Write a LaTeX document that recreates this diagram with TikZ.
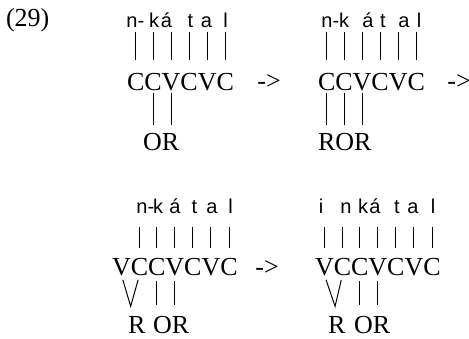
\documentclass[tikz,border=0pt]{standalone}
\usepackage{fontspec}
\setmainfont{Liberation Serif}
\newfontfamily\segfont{Liberation Sans}
\usetikzlibrary{positioning}

\begin{document}
\begin{tikzpicture}[x=0.5pt, y=-0.5pt,
  every node/.style={inner sep=0pt, outer sep=0pt},
  seg/.style={font=\segfont\fontsize{10pt}{12pt}\selectfont, text height=7.3pt, text depth=0pt, anchor=base},
  cv/.style={font=\fontsize{13pt}{15pt}\selectfont, text height=8.6pt, text depth=0pt},
  assoc/.style={line width=0.5pt},
  upA/.style={assoc, shorten <=2.5pt, shorten >=6.4pt},
  loA/.style={assoc, shorten <=1.5pt, shorten >=3.9pt},
  upB/.style={assoc, shorten <=7pt, shorten >=4.9pt},
  loB/.style={assoc, shorten <=3pt, shorten >=5.5pt},
  fork/.style={assoc, shorten <=2.5pt, shorten >=2.5pt}]
\useasboundingbox (0,0) rectangle (469,338);

\node[cv, anchor=base west] (ex) at (6,26) {(29)};

% first form
\node[seg] (sA1) at (132,27) {n\rlap{-}};
\node[seg] (sA2) at (154,27) {k};
\node[seg] (sA3) at (166.5,27) {á};
\node[seg] (sA4) at (190.5,27) {t};
\node[seg] (sA5) at (206.5,27) {a};
\node[seg] (sA6) at (225.5,27) {l};
\node[cv, anchor=base west] (cA1) at (127,90) {C};
\node[cv, right=0pt of cA1] (cA2) {C};
\node[cv, right=0pt of cA2] (cA3) {V};
\node[cv, right=0pt of cA3] (cA4) {C};
\node[cv, right=0pt of cA4] (cA5) {V};
\node[cv, right=0pt of cA5] (cA6) {C};
\node[cv, anchor=base west] (tA1) at (143,150) {O};
\node[cv, right=0pt of tA1] (tA2) {R};
\draw[upA] (cA1.north |- sA1.south) -- (cA1.north);
\draw[upA] (cA2.north |- sA2.south) -- (cA2.north);
\draw[upA] (cA3.north |- sA3.south) -- (cA3.north);
\draw[upA] (cA4.north |- sA4.south) -- (cA4.north);
\draw[upA] (cA5.north |- sA5.south) -- (cA5.north);
\draw[upA] (cA6.north |- sA6.south) -- (cA6.north);
\draw[loA] (cA2.south) -- (cA2.south |- tA1.north);
\draw[loA] (cA3.south) -- (cA3.south |- tA2.north);

\node[cv, anchor=base] (arA) at (269,89) {->};

% second form
\node[seg] (sB1) at (327,27) {n\rlap{-}};
\node[seg] (sB2) at (344,27) {k};
\node[seg] (sB3) at (368,27) {á};
\node[seg] (sB4) at (383,27) {t};
\node[seg] (sB5) at (404,27) {a};
\node[seg] (sB6) at (419,27) {l};
\node[cv, anchor=base west] (cB1) at (318,90) {C};
\node[cv, right=0pt of cB1] (cB2) {C};
\node[cv, right=0pt of cB2] (cB3) {V};
\node[cv, right=0pt of cB3] (cB4) {C};
\node[cv, right=0pt of cB4] (cB5) {V};
\node[cv, right=0pt of cB5] (cB6) {C};
\node[cv, anchor=base west] (tB1) at (318,150) {R};
\node[cv, right=0pt of tB1] (tB2) {O};
\node[cv, right=0pt of tB2] (tB3) {R};
\draw[upA] (cB1.north |- sB1.south) -- (cB1.north);
\draw[upA] (cB2.north |- sB2.south) -- (cB2.north);
\draw[upA] (cB3.north |- sB3.south) -- (cB3.north);
\draw[upA] (cB4.north |- sB4.south) -- (cB4.north);
\draw[upA] (cB5.north |- sB5.south) -- (cB5.north);
\draw[upA] (cB6.north |- sB6.south) -- (cB6.north);
\draw[loA] (cB1.south) -- (cB1.south |- tB1.north);
\draw[loA] (cB2.south) -- (cB2.south |- tB2.north);
\draw[loA] (cB3.south) -- (cB3.south |- tB3.north);

\node[cv, anchor=base] (arB) at (459,89) {->};

% third form
\node[seg] (sC1) at (142,213) {n\rlap{-}};
\node[seg] (sC2) at (158,213) {k};
\node[seg] (sC3) at (175,213) {á};
\node[seg] (sC4) at (194.5,213) {t};
\node[seg] (sC5) at (212,213) {a};
\node[seg] (sC6) at (230.5,213) {l};
\node[cv, anchor=base west] (cC0) at (112,275) {V};
\node[cv, right=0pt of cC0] (cC1) {C};
\node[cv, right=0pt of cC1] (cC2) {C};
\node[cv, right=0pt of cC2] (cC3) {V};
\node[cv, right=0pt of cC3] (cC4) {C};
\node[cv, right=0pt of cC4] (cC5) {V};
\node[cv, right=0pt of cC5] (cC6) {C};
\node[cv, anchor=base west] (tC1) at (128,333.5) {R};
\node[cv, anchor=base west] (tC2) at (153,333.5) {O};
\node[cv, right=0pt of tC2] (tC3) {R};
\coordinate (vC) at ([xshift=-3pt, yshift=5pt]tC1.north);
\draw[upB] (cC1.north |- sC1.south) -- (cC1.north);
\draw[upB] (cC2.north |- sC2.south) -- (cC2.north);
\draw[upB] (cC3.north |- sC3.south) -- (cC3.north);
\draw[upB] (cC4.north |- sC4.south) -- (cC4.north);
\draw[upB] (cC5.north |- sC5.south) -- (cC5.north);
\draw[upB] (cC6.north |- sC6.south) -- (cC6.north);
\draw[fork] (cC0.south) -- (vC) -- (cC1.south);
\draw[loB] (cC2.south) -- (cC2.south |- tC2.north);
\draw[loB] (cC3.south) -- (cC3.south |- tC3.north);

\node[cv, anchor=base] (arC) at (267,275) {->};

% fourth form
\node[seg] (sD0) at (321,213) {i};
\node[seg] (sD1) at (346,213) {n};
\node[seg] (sD2) at (363,213) {k};
\node[seg] (sD3) at (375,213) {á};
\node[seg] (sD4) at (397,213) {t};
\node[seg] (sD5) at (413,213) {a};
\node[seg] (sD6) at (433,213) {l};
\node[cv, anchor=base west] (cD0) at (315,275) {V};
\node[cv, right=0pt of cD0] (cD1) {C};
\node[cv, right=0pt of cD1] (cD2) {C};
\node[cv, right=0pt of cD2] (cD3) {V};
\node[cv, right=0pt of cD3] (cD4) {C};
\node[cv, right=0pt of cD4] (cD5) {V};
\node[cv, right=0pt of cD5] (cD6) {C};
\node[cv, anchor=base west] (tD1) at (328,333.5) {R};
\node[cv, anchor=base west] (tD2) at (354,333.5) {O};
\node[cv, right=0pt of tD2] (tD3) {R};
\coordinate (vD) at ([xshift=-0.8pt, yshift=5pt]tD1.north);
\draw[upB] (cD0.north |- sD0.south) -- (cD0.north);
\draw[upB] (cD1.north |- sD1.south) -- (cD1.north);
\draw[upB] (cD2.north |- sD2.south) -- (cD2.north);
\draw[upB] (cD3.north |- sD3.south) -- (cD3.north);
\draw[upB] (cD4.north |- sD4.south) -- (cD4.north);
\draw[upB] (cD5.north |- sD5.south) -- (cD5.north);
\draw[upB] (cD6.north |- sD6.south) -- (cD6.north);
\draw[fork] (cD0.south) -- (vD) -- (cD1.south);
\draw[loB] (cD2.south) -- (cD2.south |- tD2.north);
\draw[loB] (cD3.south) -- (cD3.south |- tD3.north);
\end{tikzpicture}
\end{document}
